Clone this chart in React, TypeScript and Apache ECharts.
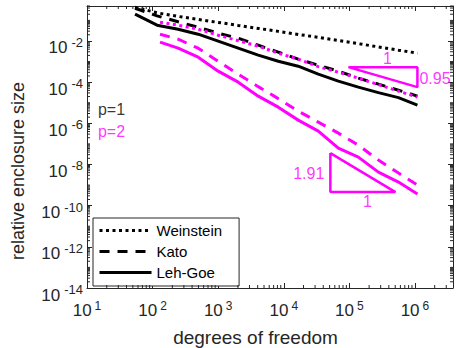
import React, { useEffect, useRef } from "react";
import * as echarts from "echarts";

// ---- data ----
const dofP1 = [54, 117, 245, 495, 1000, 2020, 4080, 8240, 16600, 33600, 67900, 137000, 277000, 560000, 1090000];
const dofP2 = [130, 245, 495, 1000, 2020, 4080, 8240, 16600, 33600, 67900, 137000, 277000, 560000, 1090000];

const weinsteinP1 = [0.438, 0.234, 0.156, 0.112, 0.08, 0.0571, 0.0409, 0.0293, 0.0209, 0.015, 0.0106, 0.0074, 0.00517, 0.00357, 0.00256];
const katoP1 = [0.391, 0.167, 0.0855, 0.0468, 0.0239, 0.0137, 0.00625, 0.00286, 0.00131, 0.000668, 0.000342, 0.000156, 0.00008, 0.0000409, 0.0000209];
const lehGoeP1 = [0.2, 0.0585, 0.0374, 0.0214, 0.00977, 0.00447, 0.00205, 0.00104, 0.000598, 0.000244, 0.000112, 0.0000571, 0.0000309, 0.0000177, 0.00000763];

const weinsteinP2 = [0.0818, 0.0585, 0.0374, 0.0191, 0.01035, 0.0056, 0.00256, 0.00131, 0.000565, 0.000305, 0.000156, 0.0000757, 0.0000366, 0.0000187];
const katoP2 = [0.0214, 0.0122, 0.00447, 0.00104, 0.000244, 0.0000605, 0.0000158, 0.00000391, 0.00000114, 3.34e-7, 8.75e-8, 1.64e-8, 3.83e-9, 1.0e-9];
const lehGoeP2 = [0.00875, 0.00447, 0.00164, 0.000342, 0.0001, 0.0000209, 0.0000061, 0.00000143, 4.18e-7, 6.25e-8, 2.29e-8, 4.28e-9, 1.4e-9, 3.66e-10];

// slope triangles
const tri1Dof = [96600, 1090000, 1090000, 96600];
const tri1Val = [5.35e-4, 5.35e-4, 5.71e-5, 5.35e-4];
const tri2Dof = [51300, 51300, 504000, 51300];
const tri2Val = [3.57e-8, 4.57e-10, 4.57e-10, 3.57e-8];

// annotations
const annoText = ["p=1", "p=2", "1", "0.95", "1.91", "1"];
const annoDof = [14.7, 14.7, 380000, 1090000, 51300, 188000];
const annoVal = [4.89e-6, 4.18e-7, 5.35e-4, 1.56e-4, 3.83e-9, 4.57e-10];

const legendNames = ["Weinstein", "Kato", "Leh-Goe"];
const xTickExponents = [1, 2, 3, 4, 5, 6];
const yTickExponents = [-14, -12, -10, -8, -6, -4, -2];

// ---- styling ----
const FONT = "'Liberation Sans', Arial, Helvetica, sans-serif";
const INK = "#262626";
const MAGENTA = "#ff00ff";
const X_MIN = 1;
const X_MAX = 6.58;
const Y_MIN = -14;
const Y_MAX = -0.3;

const lg = (v: number) => Math.log10(v);
const pts = (xs: number[], ys: number[]) => xs.map((x, i) => [lg(x), lg(ys[i])]);

const annoStyle = [
  { color: "#000", position: "right", distance: 0 },
  { color: MAGENTA, position: "right", distance: 0 },
  { color: MAGENTA, position: "top", distance: 1 },
  { color: MAGENTA, position: "right", distance: 2 },
  { color: MAGENTA, position: "left", distance: 6 },
  { color: MAGENTA, position: "bottom", distance: 1 },
];

function minorTicks(from: number, to: number, lo: number, hi: number) {
  const out: number[] = [];
  for (let n = from; n <= to; n++) {
    for (let k = 2; k <= 9; k++) {
      const v = n + Math.log10(k);
      if (v > lo && v < hi) out.push(v);
    }
  }
  return out;
}

export default function App() {
  const ref = useRef<HTMLDivElement>(null);
  useEffect(() => {
    if (!ref.current) return;
    const chart = echarts.init(ref.current, undefined, { renderer: "svg" });

    const minorX = minorTicks(1, 6, X_MIN, X_MAX);
    const yMinorList: number[] = [];
    for (let n = -14; n <= -1; n++) {
      for (let k = 1; k <= 9; k++) {
        if (k === 1 && n % 2 === 0) continue;
        const v = n + Math.log10(k);
        if (v > Y_MIN && v < Y_MAX) yMinorList.push(v);
      }
    }

    const lineSeries = (name: string, xs: number[], ys: number[], color: string, type: any) => ({
      name,
      type: "line",
      data: pts(xs, ys),
      showSymbol: false,
      symbol: "none",
      lineStyle: { color, width: 3, type },
      itemStyle: { color },
      z: 3,
    });

    const DOT = [3, 3.5];
    const DASH = [10, 8];

    const xLabel = (v: number) => (xTickExponents.includes(v) ? `{b|10}{s|${v}}` : "");
    const yLabel = (v: number) => (yTickExponents.includes(v) ? `{b|10}{s|${v}}` : "");

    const baseAxis = {
      type: "value",
      splitLine: { show: false },
      nameMoveOverlap: false,
      axisLine: { show: true, onZero: false, lineStyle: { color: INK, width: 1 } },
      axisTick: { show: true, inside: true, length: 5, lineStyle: { color: INK, width: 1 } },
    };

    const option: any = {
      animation: false,
      backgroundColor: "#fff",
      textStyle: { fontFamily: FONT },
      grid: { left: 87, right: 3, top: 6, bottom: 60, containLabel: false, outerBoundsMode: "none" },
      legend: {
        data: legendNames,
        orient: "vertical",
        left: 93,
        top: 218,
        itemWidth: 52,
        itemHeight: 14,
        itemGap: 6,
        padding: [5, 17, 6, 5],
        borderColor: INK,
        borderWidth: 1,
        backgroundColor: "#fff",
        itemStyle: { opacity: 0 },
        lineStyle: { width: 3 },
        textStyle: { fontSize: 15, color: "#000", fontFamily: FONT },
        selectedMode: false,
      },
      xAxis: [
        {
          ...baseAxis,
          position: "bottom",
          min: X_MIN,
          max: X_MAX,
          interval: 1,
          name: "degrees of freedom",
          nameLocation: "middle",
          nameGap: 39.5,
          nameTextStyle: { fontSize: 19, color: INK, fontFamily: FONT, padding: [0, 29, 0, 0] },
          axisLabel: {
            margin: 14,
            formatter: xLabel,
            rich: {
              b: { fontSize: 17, lineHeight: 17, color: INK, fontFamily: FONT },
              s: { fontSize: 12, lineHeight: 12, padding: [0, 0, 10, 3], color: INK, fontFamily: FONT },
            },
          },
        },
        {
          ...baseAxis,
          position: "top",
          min: X_MIN,
          max: X_MAX,
          interval: 1,
          axisLabel: { show: false },
        },
      ],
      yAxis: [
        {
          ...baseAxis,
          position: "left",
          min: Y_MIN,
          max: Y_MAX,
          interval: 2,
          name: "relative enclosure size",
          nameLocation: "middle",
          nameGap: 60,
          nameTextStyle: { fontSize: 18, color: INK, fontFamily: FONT, padding: [0, 48, 0, 0] },
          axisLabel: {
            margin: 4,
            formatter: yLabel,
            rich: {
              b: { fontSize: 17, lineHeight: 17, padding: [14, 0, 0, 0], color: INK, fontFamily: FONT },
              s: { fontSize: 13, lineHeight: 13, padding: [3, 0, 0, 4], color: INK, fontFamily: FONT },
            },
          },
        },
        {
          ...baseAxis,
          position: "right",
          min: Y_MIN,
          max: Y_MAX,
          interval: 2,
          axisLabel: { show: false },
        },
      ],
      series: [
        lineSeries("Weinstein", dofP1, weinsteinP1, "#000", DOT),
        lineSeries("Kato", dofP1, katoP1, "#000", DASH),
        lineSeries("Leh-Goe", dofP1, lehGoeP1, "#000", "solid"),
        lineSeries("Weinstein p=2", dofP2, weinsteinP2, MAGENTA, DOT),
        lineSeries("Kato p=2", dofP2, katoP2, MAGENTA, DASH),
        lineSeries("Leh-Goe p=2", dofP2, lehGoeP2, MAGENTA, "solid"),
        {
          name: "slope p=1",
          type: "line",
          data: pts(tri1Dof, tri1Val),
          showSymbol: false,
          symbol: "none",
          lineStyle: { color: MAGENTA, width: 2.5 },
          z: 3,
        },
        {
          name: "slope p=2",
          type: "line",
          data: pts(tri2Dof, tri2Val),
          showSymbol: false,
          symbol: "none",
          lineStyle: { color: MAGENTA, width: 2.5 },
          z: 3,
        },
        {
          name: "annotations",
          type: "scatter",
          symbolSize: 0,
          silent: true,
          z: 4,
          data: annoText.map((t, i) => ({
            value: [lg(annoDof[i]), lg(annoVal[i])],
            label: {
              show: true,
              formatter: t,
              fontSize: 16,
              fontFamily: FONT,
              color: annoStyle[i].color,
              position: annoStyle[i].position,
              distance: annoStyle[i].distance,
            },
          })),
        },
        {
          name: "minor x ticks",
          type: "custom",
          silent: true,
          clip: false,
          z: 5,
          data: minorX.map((v) => [v, Y_MIN]),
          renderItem: (_p: any, api: any) => {
            const v = api.value(0);
            const b = api.coord([v, Y_MIN]);
            const t = api.coord([v, Y_MAX]);
            const st = { stroke: INK, lineWidth: 1 };
            return {
              type: "group",
              children: [
                { type: "line", shape: { x1: b[0], y1: b[1], x2: b[0], y2: b[1] - 3 }, style: st },
                { type: "line", shape: { x1: t[0], y1: t[1], x2: t[0], y2: t[1] + 3 }, style: st },
              ],
            };
          },
        },
        {
          name: "minor y ticks",
          type: "custom",
          silent: true,
          clip: false,
          z: 5,
          data: yMinorList.map((v) => [X_MIN, v]),
          renderItem: (_p: any, api: any) => {
            const v = api.value(1);
            const l = api.coord([X_MIN, v]);
            const r = api.coord([X_MAX, v]);
            const st = { stroke: INK, lineWidth: 1 };
            return {
              type: "group",
              children: [
                { type: "line", shape: { x1: l[0], y1: l[1], x2: l[0] + 3, y2: l[1] }, style: st },
                { type: "line", shape: { x1: r[0], y1: r[1], x2: r[0] - 3, y2: r[1] }, style: st },
              ],
            };
          },
        },
      ],
    };

    chart.setOption(option);
    return () => chart.dispose();
  }, []);

  return <div ref={ref} style={{ width: 456, height: 348, position: "absolute", left: 0, top: 0 }} />;
}
